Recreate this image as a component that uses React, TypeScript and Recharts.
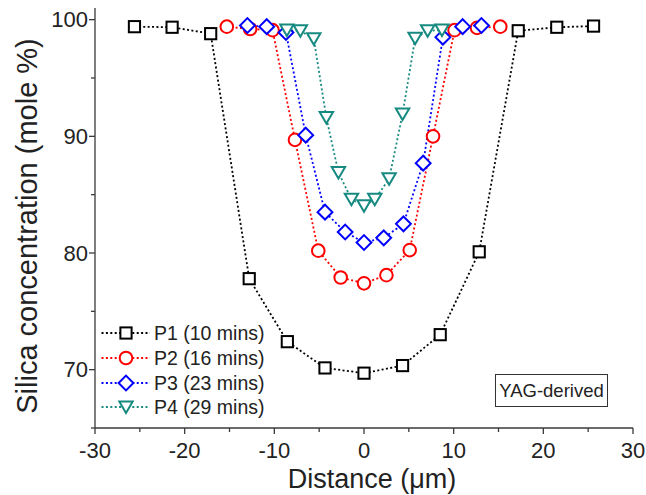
import React from 'react';
import { ComposedChart, Line, Scatter, XAxis, YAxis, Legend } from 'recharts';

// ---- data ----
const p1X = [-25.6, -21.4, -17.1, -12.8, -8.55, -4.35, 0, 4.3, 8.5, 12.85, 17.2, 21.5, 25.6];
const p1Y = [99.4, 99.35, 98.8, 77.8, 72.4, 70.15, 69.7, 70.35, 73.0, 80.1, 99.05, 99.35, 99.45];

const p2X = [-15.3, -12.7, -10.2, -7.7, -5.1, -2.6, 0, 2.5, 5.1, 7.7, 10.1, 12.6, 15.2];
const p2Y = [99.4, 99.2, 99.1, 89.7, 80.2, 77.9, 77.4, 78.1, 80.25, 90.0, 99.1, 99.3, 99.4];

const p3X = [-13.0, -10.85, -8.7, -6.5, -4.35, -2.1, 0, 2.2, 4.4, 6.6, 8.8, 11.0, 13.1];
const p3Y = [99.5, 99.4, 98.9, 90.1, 83.5, 81.8, 80.9, 81.3, 82.5, 87.7, 98.5, 99.4, 99.5];

const p4X = [-8.6, -7.1, -5.6, -4.2, -2.85, -1.4, 0, 1.2, 2.8, 4.3, 5.7, 7.1, 8.7];
const p4Y = [99.1, 99.05, 98.35, 91.6, 86.9, 84.6, 84.05, 84.6, 86.35, 91.9, 98.4, 99.05, 99.1];

const seriesNames = ['P1 (10 mins)', 'P2 (16 mins)', 'P3 (23 mins)', 'P4 (29 mins)'];
const xTicks = [-30, -25, -20, -15, -10, -5, 0, 5, 10, 15, 20, 25, 30];
const yTicks = [65, 70, 75, 80, 85, 90, 95, 100];
const xDomain = [-30, 30];
const yDomain = [65, 101];
const xTitle = 'Distance (\u03bcm)';
const yTitle = 'Silica concentration (mole %)';
const annotation = 'YAG-derived';

const toPoints = (xs: number[], ys: number[]) => xs.map((x, i) => ({ x, y: ys[i] }));

type Shape = 'square' | 'circle' | 'diamond' | 'triangle';
const SERIES: { name: string; data: { x: number; y: number }[]; color: string; shape: Shape }[] = [
  { name: seriesNames[0], data: toPoints(p1X, p1Y), color: '#000000', shape: 'square' },
  { name: seriesNames[1], data: toPoints(p2X, p2Y), color: '#ff0000', shape: 'circle' },
  { name: seriesNames[2], data: toPoints(p3X, p3Y), color: '#0000ff', shape: 'diamond' },
  { name: seriesNames[3], data: toPoints(p4X, p4Y), color: '#168a80', shape: 'triangle' },
];

const FONT = '"Liberation Sans", Arial, sans-serif';
const AXIS = '#3a3a3a';
const TEXT = '#222222';
const DASH = '2 2.4';

function Marker({ shape, cx, cy, color }: { shape: Shape; cx: number; cy: number; color: string }) {
  const common = { fill: '#ffffff', stroke: color, strokeWidth: 2 };
  if (cx == null || cy == null) return <g />;
  switch (shape) {
    case 'square':
      return <rect x={cx - 5.6} y={cy - 5.6} width={11.2} height={11.2} {...common} />;
    case 'circle':
      return <circle cx={cx} cy={cy} r={6.3} {...common} />;
    case 'diamond':
      return (
        <polygon
          points={`${cx},${cy - 7.4} ${cx + 7.4},${cy} ${cx},${cy + 7.4} ${cx - 7.4},${cy}`}
          {...common}
        />
      );
    default:
      return (
        <polygon points={`${cx - 6.7},${cy - 5.6} ${cx + 6.7},${cy - 5.6} ${cx},${cy + 5.9}`} {...common} />
      );
  }
}

const BottomTick = (props: any) => {
  const { x, y, payload } = props;
  const major = payload.value % 10 === 0;
  return (
    <g>
      <line x1={x} x2={x} y1={y} y2={y + (major ? 6 : 4)} stroke={AXIS} strokeWidth={1.3} />
      {major && (
        <text x={x} y={y + 30} textAnchor="middle" fontSize={22} fill={TEXT} fontFamily={FONT}>
          {payload.value}
        </text>
      )}
    </g>
  );
};

const TopTick = (props: any) => {
  const { x, y, payload } = props;
  const major = payload.value % 10 === 0;
  return <line x1={x} x2={x} y1={y} y2={y + (major ? 5 : 4)} stroke={AXIS} strokeWidth={1.3} />;
};

const LeftTick = (props: any) => {
  const { x, y, payload } = props;
  const major = payload.value % 10 === 0;
  return (
    <g>
      <line x1={x} x2={x - (major ? 6 : 4)} y1={y} y2={y} stroke={AXIS} strokeWidth={1.3} />
      {major && (
        <text x={x - 7} y={y + 7.8} textAnchor="end" fontSize={22} fill={TEXT} fontFamily={FONT}>
          {payload.value}
        </text>
      )}
    </g>
  );
};

const RightTick = (props: any) => {
  const { x, y, payload } = props;
  const major = payload.value % 10 === 0;
  return <line x1={x} x2={x - (major ? 6 : 4)} y1={y} y2={y} stroke={AXIS} strokeWidth={1.3} />;
};

const LegendBox = () => (
  <div style={{ fontFamily: FONT }}>
    {SERIES.map((s) => (
      <div key={s.name} style={{ display: 'flex', alignItems: 'center', height: 24.7 }}>
        <svg width={52} height={24} style={{ display: 'block' }}>
          <line x1={1.5} x2={50} y1={12} y2={12} stroke={s.color} strokeWidth={1.8} strokeDasharray={DASH} />
          <Marker shape={s.shape} cx={26} cy={12} color={s.color} />
        </svg>
        <span style={{ fontSize: 19.5, color: TEXT, marginLeft: 2, whiteSpace: 'nowrap', lineHeight: '24px' }}>
          {s.name}
        </span>
      </div>
    ))}
  </div>
);

export default function App() {
  return (
    <div
      style={{
        position: 'absolute',
        left: 0,
        top: 0,
        width: 646,
        height: 495,
        background: '#ffffff',
        fontFamily: FONT,
      }}
    >
      <ComposedChart width={646} height={495} margin={{ top: 8, right: 13, bottom: 0, left: 0 }}>
        <XAxis
          xAxisId="bottom"
          dataKey="x"
          type="number"
          domain={xDomain}
          ticks={xTicks}
          interval={0}
          allowDataOverflow
          height={67}
          tickSize={0}
          tickMargin={0}
          tickLine={false}
          axisLine={{ stroke: AXIS, strokeWidth: 1.3 }}
          tick={BottomTick}
          label={{
            content: (p: any) => {
              const vb = p.viewBox || { x: 95, width: 538, y: 428 };
              return (
                <text x={vb.x + vb.width / 2 + 8} y={vb.y + 60} textAnchor="middle" fontSize={27} fill={TEXT} fontFamily={FONT}>
                  {xTitle}
                </text>
              );
            },
          }}
        />
        <XAxis
          xAxisId="top"
          orientation="top"
          dataKey="x"
          type="number"
          domain={xDomain}
          ticks={xTicks}
          interval={0}
          allowDataOverflow
          height={0}
          tickSize={0}
          tickMargin={0}
          tickLine={false}
          axisLine={{ stroke: AXIS, strokeWidth: 1.3 }}
          tick={TopTick}
        />
        <YAxis
          yAxisId="left"
          type="number"
          domain={yDomain}
          ticks={yTicks}
          interval={0}
          allowDataOverflow
          width={95}
          tickSize={0}
          tickMargin={0}
          tickLine={false}
          axisLine={{ stroke: AXIS, strokeWidth: 1.3 }}
          tick={LeftTick}
          label={{
            content: () => (
              <text
                x={37}
                y={226}
                transform="rotate(-90, 37, 226)"
                textAnchor="middle"
                fontSize={29}
                fill={TEXT}
                fontFamily={FONT}
              >
                {yTitle}
              </text>
            ),
          }}
        />
        <YAxis
          yAxisId="right"
          orientation="right"
          type="number"
          domain={yDomain}
          ticks={yTicks}
          interval={0}
          allowDataOverflow
          width={0}
          tickSize={0}
          tickMargin={0}
          tickLine={false}
          axisLine={{ stroke: AXIS, strokeWidth: 1.3 }}
          tick={RightTick}
        />
        {SERIES.map((s) => (
          <Line
            key={'l' + s.name}
            xAxisId="bottom"
            yAxisId="left"
            data={s.data}
            dataKey="y"
            type="linear"
            stroke={s.color}
            strokeWidth={1.8}
            strokeDasharray={DASH}
            dot={false}
            activeDot={false}
            legendType="none"
            isAnimationActive={false}
          />
        ))}
        {SERIES.map((s) => (
          <Scatter
            key={'s' + s.name}
            name={s.name}
            xAxisId="bottom"
            yAxisId="left"
            data={s.data}
            dataKey="y"
            isAnimationActive={false}
            shape={(p: any) => <Marker shape={s.shape} cx={p.cx} cy={p.cy} color={s.color} />}
          />
        ))}
        <Legend
          layout="vertical"
          align="center"
          verticalAlign="middle"
          wrapperStyle={{ position: 'absolute', left: 100, top: 321, width: 200, height: 100 }}
          content={() => <LegendBox />}
        />
      </ComposedChart>
      <div
        style={{
          position: 'absolute',
          left: 495,
          top: 374,
          width: 111,
          height: 31,
          border: '1.3px solid #333',
          background: '#fff',
          fontSize: 18.5,
          color: TEXT,
          display: 'flex',
          alignItems: 'center',
          justifyContent: 'center',
          fontFamily: FONT,
          boxSizing: 'content-box',
        }}
      >
        {annotation}
      </div>
    </div>
  );
}
